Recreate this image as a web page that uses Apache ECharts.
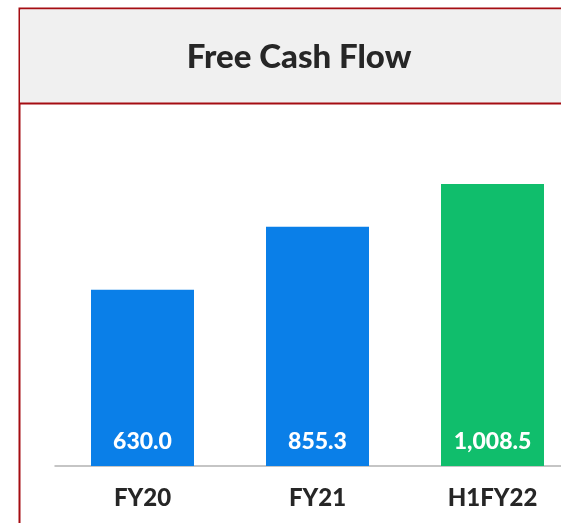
<!DOCTYPE html>
<html>
<head>
<meta charset="utf-8">
<script src="https://cdn.jsdelivr.net/npm/echarts@6/dist/echarts.min.js"></script>
<style>
  html, body { margin: 0; padding: 0; overflow: hidden; background: #fff; }
  #chart { width: 600px; height: 523px; }
</style>
</head>
<body>
<div id="chart"></div>
<script>
const titleText = 'Free Cash Flow';
const categories = ['FY20', 'FY21', 'H1FY22'];
const values = [630.0, 855.3, 1008.5];
const barColors = ['#0a7fe8', '#0a7fe8', '#10be6c'];

const fmt = v => v.toLocaleString('en-US', { minimumFractionDigits: 1, maximumFractionDigits: 1 });

const chart = echarts.init(document.getElementById('chart'));

const option = {
  animation: false,
  graphic: [
    {
      type: 'rect',
      shape: { x: 19.5, y: 8.5, width: 560, height: 530 },
      style: { fill: '#fff', stroke: '#a50d12', lineWidth: 2 },
      z: -10
    },
    {
      type: 'rect',
      shape: { x: 20, y: 9.5, width: 560, height: 93.5 },
      style: { fill: '#f0f0f0' },
      z: -9
    },
    {
      type: 'line',
      shape: { x1: 19, y1: 103.5, x2: 600, y2: 103.5 },
      style: { stroke: '#a50d12', lineWidth: 2 },
      z: -8
    },
    {
      type: 'text',
      x: 299,
      y: 57,
      style: {
        text: titleText,
        fill: '#262626',
        font: '900 33px Lato',
        align: 'center',
        verticalAlign: 'middle'
      }
    }
  ],
  grid: { left: 55, right: 20, top: 130.5, bottom: 57 },
  xAxis: {
    type: 'category',
    data: categories,
    axisLine: { lineStyle: { color: '#b3b3b3', width: 1.5 } },
    axisTick: { show: false },
    axisLabel: {
      color: '#262626',
      fontFamily: 'Lato',
      fontWeight: 900,
      fontSize: 24,
      margin: 20
    }
  },
  yAxis: {
    type: 'value',
    min: 0,
    max: 1200,
    show: false,
    splitLine: { show: false }
  },
  series: [
    {
      type: 'bar',
      barWidth: 103,
      data: values.map((v, i) => ({ value: v, itemStyle: { color: barColors[i] } })),
      label: {
        show: true,
        position: 'insideBottom',
        distance: 13,
        color: '#fff',
        fontFamily: 'Lato',
        fontWeight: 900,
        fontSize: 23,
        formatter: p => fmt(p.value)
      }
    }
  ]
};

chart.setOption(option);
</script>
</body>
</html>
